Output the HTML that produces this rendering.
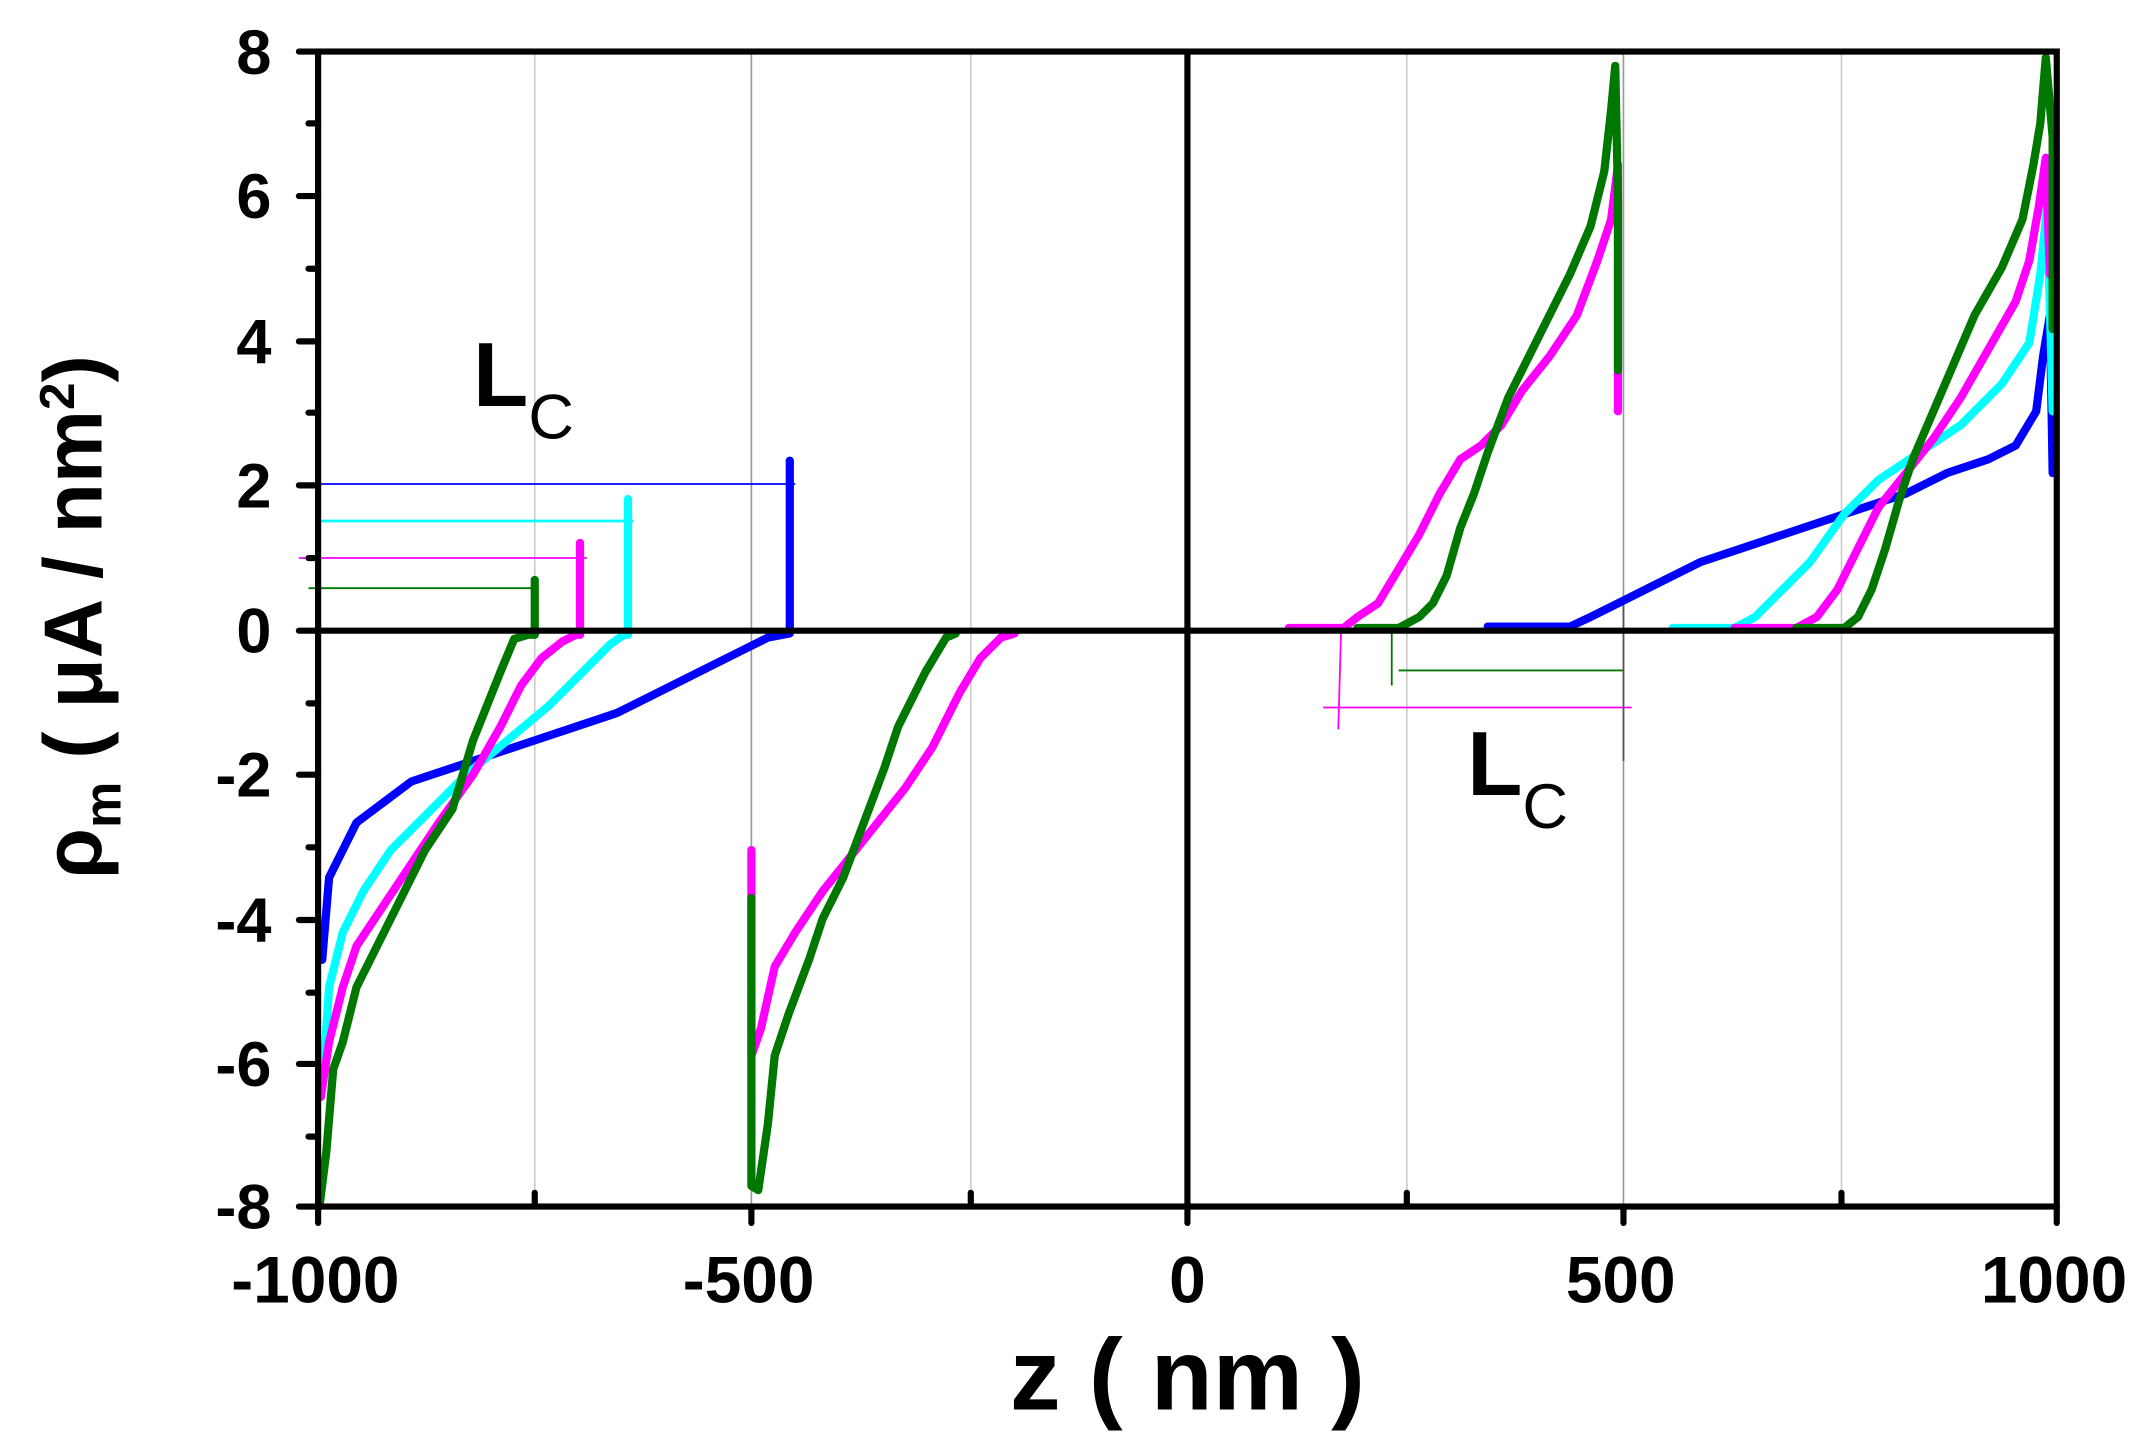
<!DOCTYPE html>
<html><head><meta charset="utf-8"><style>html,body{margin:0;padding:0;background:#fff}svg{display:block}</style></head>
<body>
<svg width="2150" height="1451" viewBox="0 0 1568 1058.3" preserveAspectRatio="none" xmlns="http://www.w3.org/2000/svg" font-family="Liberation Sans, Arial, sans-serif" font-weight="bold">
<rect width="1568" height="1059" fill="#fff"/>
<g stroke="#ccc" stroke-width="1.2">
<line x1="390" y1="37" x2="390" y2="880"/><line x1="708" y1="37" x2="708" y2="880"/>
<line x1="1026" y1="37" x2="1026" y2="880"/><line x1="1343" y1="37" x2="1343" y2="880"/>
</g>
<g stroke="#999" stroke-width="1.2"><line x1="548" y1="37" x2="548" y2="880"/><line x1="1184" y1="37" x2="1184" y2="880"/></g>
<g fill="none" stroke-linejoin="round" stroke-width="1.3">
<line x1="232" y1="353" x2="580" y2="353" stroke="#0000ff"/>
<line x1="232" y1="380" x2="462" y2="380" stroke="#00ffff" stroke-width="2"/>
<line x1="218" y1="407" x2="428" y2="407" stroke="#ff00ff"/>
<line x1="225" y1="429" x2="390" y2="429" stroke="#007700"/>
<line x1="1020" y1="489" x2="1184" y2="489" stroke="#007700"/>
<line x1="1015" y1="460" x2="1015" y2="500" stroke="#007700"/>
<line x1="965" y1="516" x2="1190" y2="516" stroke="#ff00ff"/>
<line x1="978" y1="462" x2="976" y2="532" stroke="#ff00ff"/>
<line x1="1184" y1="440" x2="1184" y2="555" stroke="#555"/>
</g>
<g fill="none" stroke-width="6" stroke-linejoin="round" stroke-linecap="round">
<polyline stroke="#0000ff" points="235,700 240,640 250,620 260,600 280,585 300,570 330,560 360,550 390,540 420,530 450,520 480,505 510,490 540,475 560,465 576,462 576,336"/>
<polyline stroke="#00ffff" points="236,780 240,720 250,680 265,650 285,620 310,595 340,565 370,540 400,515 425,490 445,470 455,463 458,463 458,364"/>
<polyline stroke="#ff00ff" points="234,800 240,760 250,720 260,690 280,660 300,630 320,600 345,565 365,530 380,500 395,480 410,468 420,463 423,463 423,396"/>
<polyline stroke="#007700" points="233,880 238,840 243,780 250,760 260,720 275,690 290,660 310,620 330,590 345,540 355,515 365,490 375,466 385,463 390,463 390,423"/>
<polyline stroke="#ff00ff" points="548,620 548,770 555,750 565,705 580,680 600,650 620,625 640,600 660,575 680,545 700,505 715,480 730,465 740,462"/>
<polyline stroke="#007700" points="548,655 548,865 553,868 560,820 565,770 575,740 590,700 600,670 615,640 630,600 645,560 655,530 665,510 675,490 690,465 697,462"/>
<polyline stroke="#0000ff" points="1085,457 1145,457 1160,450 1180,440 1210,425 1240,410 1270,400 1300,390 1330,380 1360,370 1390,360 1420,345 1450,335 1470,325 1485,300 1490,260 1495,230 1497,345"/>
<polyline stroke="#00ffff" points="1220,458 1265,458 1280,450 1300,430 1320,410 1345,375 1370,350 1400,330 1430,310 1460,280 1480,250 1488,200 1493,150 1497,300"/>
<polyline stroke="#ff00ff" points="940,458 980,458 990,450 1005,440 1020,415 1035,390 1050,360 1065,335 1080,325 1095,310 1110,285 1130,260 1150,230 1165,190 1175,160 1180,120 1180,300"/>
<polyline stroke="#ff00ff" points="1265,458 1310,458 1325,450 1340,430 1355,400 1370,370 1390,345 1410,320 1430,290 1450,255 1470,220 1480,190 1487,150 1492,115 1495,200"/>
<polyline stroke="#007700" points="990,458 1020,458 1035,450 1045,440 1055,420 1065,385 1075,360 1085,330 1100,290 1115,260 1130,230 1145,200 1160,165 1170,125 1175,80 1178,48 1180,145 1180,270"/>
<polyline stroke="#007700" points="1310,458 1345,458 1355,450 1365,430 1375,400 1385,365 1395,335 1410,300 1425,265 1440,230 1460,195 1475,160 1483,120 1488,90 1492,42 1497,100 1497,240"/>
</g>
<g stroke="#000" stroke-width="4.5" fill="none" stroke-linecap="round">
<rect x="232" y="37.6" width="1268" height="842.4"/>
<line x1="232" y1="460" x2="1500" y2="460"/>
<line x1="866" y1="37.6" x2="866" y2="880"/>
<g>
<line x1="218" y1="37.6" x2="232" y2="37.6"/><line x1="218" y1="143" x2="232" y2="143"/><line x1="218" y1="249" x2="232" y2="249"/><line x1="218" y1="354" x2="232" y2="354"/><line x1="218" y1="460" x2="232" y2="460"/><line x1="218" y1="565" x2="232" y2="565"/><line x1="218" y1="671" x2="232" y2="671"/><line x1="218" y1="776" x2="232" y2="776"/><line x1="218" y1="880" x2="232" y2="880"/>
<line x1="225" y1="90" x2="232" y2="90"/><line x1="225" y1="196" x2="232" y2="196"/><line x1="225" y1="301" x2="232" y2="301"/><line x1="225" y1="407" x2="232" y2="407"/><line x1="225" y1="513" x2="232" y2="513"/><line x1="225" y1="618" x2="232" y2="618"/><line x1="225" y1="724" x2="232" y2="724"/><line x1="225" y1="829" x2="232" y2="829"/>
<line x1="390" y1="880" x2="390" y2="870"/><line x1="708" y1="880" x2="708" y2="870"/><line x1="1026" y1="880" x2="1026" y2="870"/><line x1="1343" y1="880" x2="1343" y2="870"/>
<line x1="232" y1="880" x2="232" y2="892"/><line x1="548" y1="880" x2="548" y2="892"/><line x1="866" y1="880" x2="866" y2="892"/><line x1="1184" y1="880" x2="1184" y2="892"/><line x1="1500" y1="880" x2="1500" y2="892"/>
</g>
</g>
<g font-size="46" text-anchor="end" fill="#000">
<text x="198" y="54">8</text><text x="198" y="159">6</text><text x="198" y="265">4</text><text x="198" y="370">2</text><text x="198" y="476">0</text><text x="198" y="581">-2</text><text x="198" y="687">-4</text><text x="198" y="792">-6</text><text x="198" y="896">-8</text>
</g>
<g font-size="48" text-anchor="middle" fill="#000">
<text x="230" y="950">-1000</text><text x="546" y="950">-500</text><text x="866" y="950">0</text><text x="1182" y="950">500</text><text x="1498" y="950">1000</text>
</g>
<text x="866" y="1028" font-size="74" text-anchor="middle">z ( nm )</text>
<text transform="translate(74,450) rotate(-90)" font-size="60" text-anchor="middle">ρ<tspan font-size="38" dy="14">m</tspan><tspan dy="-14"> ( μA / nm</tspan><tspan font-size="36" dy="-20">2</tspan><tspan dy="20">)</tspan></text>
<text x="345" y="296" font-size="66">L<tspan font-size="46" dy="24" font-weight="normal">C</tspan></text>
<text x="1070" y="580" font-size="66">L<tspan font-size="46" dy="24" font-weight="normal">C</tspan></text>
</svg>
</body></html>
